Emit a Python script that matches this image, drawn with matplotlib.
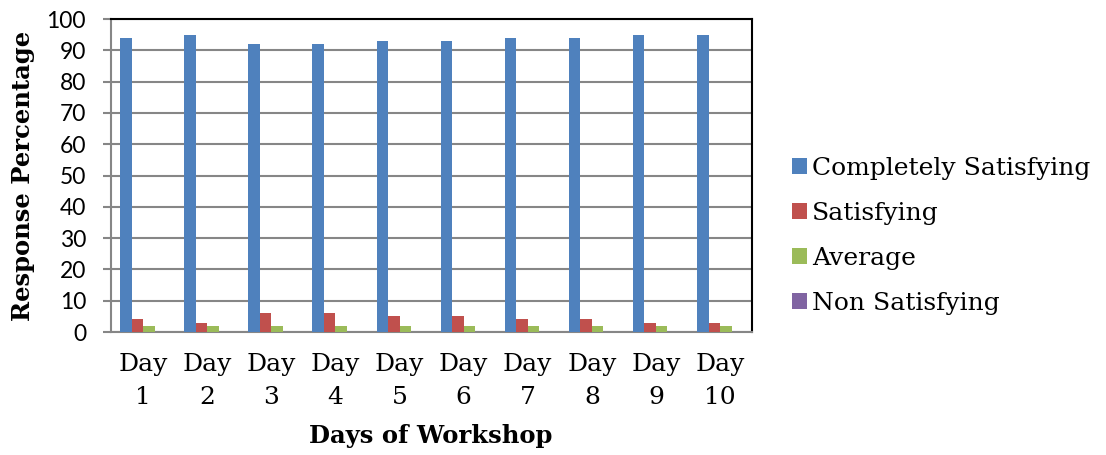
"""Workshop feedback: grouped bars per day."""

import matplotlib
matplotlib.use("Agg")
import matplotlib.pyplot as plt
import numpy as np

days = ["Day\n1", "Day\n2", "Day\n3", "Day\n4", "Day\n5",
        "Day\n6", "Day\n7", "Day\n8", "Day\n9", "Day\n10"]
completely_satisfying = [94, 95, 92, 92, 93, 93, 94, 94, 95, 95]
satisfying = [4, 3, 6, 6, 5, 5, 4, 4, 3, 3]
average = [2, 2, 2, 2, 2, 2, 2, 2, 2, 2]
non_satisfying = [0, 0, 0, 0, 0, 0, 0, 0, 0, 0]

series = [
    ("Completely Satisfying", completely_satisfying, "#4F81BD"),
    ("Satisfying", satisfying, "#C0504D"),
    ("Average", average, "#9BBB59"),
    ("Non Satisfying", non_satisfying, "#8064A2"),
]

SERIF = "DejaVu Serif"
GRID = "#868686"

fig = plt.figure(figsize=(11.06, 4.55), dpi=100)
ax = fig.add_axes([0.1004, 0.2703, 0.5796, 0.6879])

x = np.arange(len(days))
width = 0.179
for i, (name, vals, color) in enumerate(series):
    ax.bar(x + (i - 1.5) * width, vals, width, color=color, label=name, zorder=3)

ax.set_xlim(-0.5, len(days) - 0.5)
ax.set_ylim(0, 100)
ax.set_yticks(range(0, 101, 10))
ax.set_xticks(x)
ax.set_xticklabels(days, family=SERIF, fontsize=18, linespacing=1.55)
for lab in ax.get_yticklabels():
    lab.set_family("Lato")
    lab.set_fontsize(16.5)

ax.yaxis.grid(True, color=GRID, linewidth=1.5, zorder=0)
ax.tick_params(axis="y", direction="out", length=6, width=1.5, color=GRID, pad=12)
ax.tick_params(axis="x", length=0, pad=15)

for side in ("left", "bottom"):
    ax.spines[side].set_color(GRID)
    ax.spines[side].set_linewidth(1.5)
for side in ("top", "right"):
    ax.spines[side].set_color("black")
    ax.spines[side].set_linewidth(1.5)

# axis titles placed in figure pixels
fig.text(23 / 1106, 1 - 176 / 455, "Response Percentage", family=SERIF,
         fontweight="bold", fontsize=17.5, rotation=90, ha="center", va="center")
fig.text(431 / 1106, 1 - 436 / 455, "Days of Workshop", family=SERIF,
         fontweight="bold", fontsize=17.5, ha="center", va="center")

fig.legend(loc="center left", bbox_to_anchor=(0.716, 0.482), frameon=False,
           prop={"family": SERIF, "size": 18}, handlelength=0.6,
           handleheight=0.6, handletextpad=0.2, labelspacing=0.88,
           borderaxespad=0, borderpad=0)

fig.savefig("out.png", dpi=100)
